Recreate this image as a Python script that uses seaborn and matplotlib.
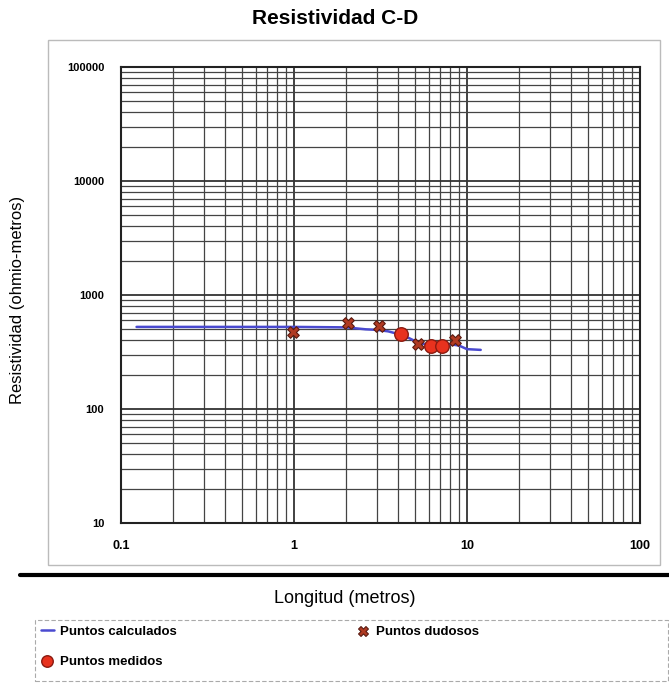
import numpy as np
import pandas as pd
import matplotlib
matplotlib.use("Agg")
import matplotlib.pyplot as plt
from matplotlib.patches import Rectangle
from matplotlib.lines import Line2D
import matplotlib.ticker as mticker
import seaborn as sns

# ---- data ----
calc_x = [0.123, 0.5, 1.0, 2.0, 2.6, 3.0, 3.5, 4.0, 4.6, 5.0, 5.5, 6.0, 7.0, 8.0, 9.0, 10.0, 12.0]
calc_y = [525, 525, 525, 520, 500, 495, 480, 455, 420, 395, 375, 365, 365, 370, 360, 335, 330]
dud_x = [0.99, 2.06, 3.1, 5.2, 8.5]
dud_y = [471, 565, 532, 371, 402]
med_x = [4.15, 6.2, 7.2]
med_y = [455, 354, 354]
x_ticks = [0.1, 1, 10, 100]
x_labels = ["0.1", "1", "10", "100"]
y_ticks = [10, 100, 1000, 10000, 100000]
y_labels = ["10", "100", "1000", "10000", "100000"]

sns.set_style("white")
plt.rcParams['font.family'] = ['Liberation Sans', 'DejaVu Sans']
plt.rcParams['text.color'] = 'black'
plt.rcParams['xtick.color'] = 'black'
plt.rcParams['ytick.color'] = 'black'

fig = plt.figure(figsize=6.69 * np.array([1, 684 / 669]), dpi=100)
W, H = 669, 684

# outer gray frame of plot area
fig.patches.append(Rectangle((48 / W, 1 - 565 / H), (660 - 48) / W, (565 - 40) / H,
                             transform=fig.transFigure, fill=False, ec="#bbbbbb", lw=1.0))
# thick black separator line
fig.add_artist(Line2D([20 / W, 1.0], [1 - 575 / H, 1 - 575 / H], transform=fig.transFigure,
                      color="black", lw=3.0))
# legend box
fig.patches.append(Rectangle((35 / W, 1 - 681 / H), (668 - 35) / W, (681 - 620) / H,
                             transform=fig.transFigure, fill=False, ec="#aaaaaa", lw=0.8,
                             ls=(0, (4, 2))))

ax = fig.add_axes([121 / W, 1 - 523 / H, (640 - 121) / W, (523 - 67) / H])

df_c = pd.DataFrame({"x": calc_x, "y": calc_y})
df_d = pd.DataFrame({"x": dud_x, "y": dud_y})
df_m = pd.DataFrame({"x": med_x, "y": med_y})

sns.lineplot(data=df_c, x="x", y="y", ax=ax, color="#4a4ad0", lw=1.8,
             label="Puntos calculados", zorder=3)
sns.scatterplot(data=df_m, x="x", y="y", ax=ax, marker="o", s=95, color="#e8321e",
                edgecolor="#8a1a10", linewidth=1.0, label="Puntos medidos", zorder=5)
sns.scatterplot(data=df_d, x="x", y="y", ax=ax, marker="X", s=70, color="#b03a22",
                edgecolor="#5a1a10", linewidth=0.8, label="Puntos dudosos", zorder=4)

ax.set_xscale("log")
ax.set_yscale("log")
ax.set_xlim(0.1, 100)
ax.set_ylim(10, 100000)
ax.xaxis.set_major_locator(mticker.FixedLocator(x_ticks))
ax.yaxis.set_major_locator(mticker.FixedLocator(y_ticks))
ax.xaxis.set_minor_locator(mticker.LogLocator(base=10, subs=np.arange(2, 10)))
ax.yaxis.set_minor_locator(mticker.LogLocator(base=10, subs=np.arange(2, 10)))
ax.xaxis.set_minor_formatter(mticker.NullFormatter())
ax.yaxis.set_minor_formatter(mticker.NullFormatter())
ax.set_xticklabels(x_labels, fontsize=9, fontweight="bold")
ax.set_yticklabels(y_labels, fontsize=8, fontweight="bold")
ax.grid(True, which="major", color="#333333", lw=1.3)
ax.grid(True, which="minor", color="#444444", lw=0.9)
ax.tick_params(axis="both", which="both", length=0, pad=12)
for s in ax.spines.values():
    s.set_color("#222222")
    s.set_linewidth(1.5)
ax.set_xlabel("")
ax.set_ylabel("")

fig.text(335 / W, 1 - 18 / H, "Resistividad C-D", ha="center", va="center",
         fontsize=15, fontweight="bold")
fig.text(18 / W, 1 - 300 / H, "Resistividad (ohmio-metros)", ha="center", va="center",
         rotation=90, fontsize=12)
fig.text(345 / W, 1 - 598 / H, "Longitud (metros)", ha="center", va="center", fontsize=13)

handles, labels = ax.get_legend_handles_labels()
ax.get_legend().remove()
leg = fig.legend(handles, labels, loc="upper left", bbox_to_anchor=(38 / W, 1 - 623 / H),
                 ncol=2, frameon=False, prop={"weight": "bold", "size": 9.5},
                 columnspacing=13.6, handlelength=1.0, handletextpad=0.5, borderaxespad=0,
                 borderpad=0.2, labelspacing=1.35, markerscale=0.85)

fig.savefig("out.png", dpi=100)
